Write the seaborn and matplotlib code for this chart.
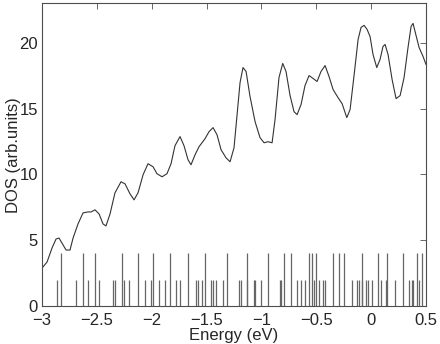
import numpy as np
import pandas as pd
import matplotlib
matplotlib.use("Agg")
import matplotlib.pyplot as plt
import seaborn as sns

# DOS curve (energy in eV, DOS in arb. units)
energy = [-3.000, -2.954, -2.909, -2.872, -2.845, -2.818, -2.781, -2.745, -2.717, -2.672,
          -2.626, -2.581, -2.553, -2.517, -2.480, -2.444, -2.417, -2.380, -2.335, -2.280,
          -2.243, -2.198, -2.161, -2.125, -2.079, -2.034, -1.988, -1.952, -1.906, -1.861,
          -1.824, -1.788, -1.742, -1.706, -1.669, -1.642, -1.605, -1.569, -1.514, -1.478,
          -1.441, -1.405, -1.368, -1.323, -1.286, -1.250, -1.222, -1.195, -1.168, -1.140,
          -1.104, -1.058, -1.013, -0.976, -0.940, -0.903, -0.876, -0.840, -0.806, -0.776,
          -0.739, -0.703, -0.675, -0.639, -0.603, -0.566, -0.529, -0.493, -0.457, -0.420,
          -0.384, -0.347, -0.302, -0.265, -0.222, -0.192, -0.156, -0.119, -0.092, -0.064,
          -0.037, -0.010, 0.017, 0.051, 0.081, 0.108, 0.127, 0.154, 0.191, 0.227,
          0.264, 0.300, 0.336, 0.364, 0.382, 0.409, 0.437, 0.473, 0.500]
dos = [2.89, 3.35, 4.41, 5.10, 5.17, 4.79, 4.26, 4.26, 5.17, 6.24,
       7.08, 7.15, 7.15, 7.31, 7.00, 6.24, 6.09, 7.00, 8.60, 9.44,
       9.28, 8.52, 8.07, 8.60, 9.97, 10.81, 10.58, 10.05, 9.82, 10.05,
       10.81, 12.18, 12.87, 12.18, 11.11, 10.73, 11.49, 12.10, 12.71, 13.24,
       13.55, 13.01, 11.87, 11.26, 10.96, 12.02, 14.54, 16.97, 18.11, 17.81,
       15.91, 14.00, 12.79, 12.40, 12.48, 12.40, 14.16, 17.35, 18.42, 17.81,
       15.98, 14.76, 14.54, 15.30, 16.74, 17.50, 17.28, 17.05, 17.81, 18.26,
       17.43, 16.44, 15.83, 15.37, 14.31, 14.92, 17.50, 20.24, 21.16, 21.31,
       21.00, 20.47, 19.10, 18.11, 18.72, 19.71, 19.86, 19.10, 17.20, 15.75,
       15.98, 17.35, 19.63, 21.23, 21.46, 20.55, 19.63, 18.95, 18.34]

# eigenvalue sticks: tall ones (height 4) and short ones (height 2)
levels_tall = [-2.824, -2.624, -2.514, -2.273, -2.122, -1.988, -1.836, -1.666, -1.514,
               -1.316, -1.134, -0.940, -0.794, -0.730, -0.569, -0.541, -0.502, -0.347,
               -0.290, -0.244, -0.083, 0.066, 0.145, 0.288, 0.416, 0.464]
levels_short = [-2.866, -2.687, -2.578, -2.478, -2.350, -2.332, -2.253, -2.204, -2.061,
                -2.006, -1.933, -1.882, -1.776, -1.739, -1.596, -1.578, -1.541, -1.462,
                -1.444, -1.411, -1.347, -1.207, -1.189, -1.134, -1.067, -1.055, -1.006,
                -0.833, -0.818, -0.675, -0.639, -0.605, -0.518, -0.478, -0.436, -0.420,
                -0.174, -0.128, -0.113, -0.083, -0.047, -0.028, 0.005, 0.087, 0.136,
                0.218, 0.346, 0.370, 0.379, 0.440]

df = pd.DataFrame({"Energy": energy, "DOS": dos})

sns.set_style("white")
plt.rcParams["font.family"] = ["Liberation Sans", "DejaVu Sans"]

fig = plt.figure(figsize=(4.4, 3.44), dpi=100)
ax = fig.add_axes([0.0955, 0.110, 0.8727, 0.881])

ax.vlines(levels_short, 0, 2, color="0.4", lw=0.9)
ax.vlines(levels_tall, 0, 4, color="0.4", lw=0.9)
sns.lineplot(data=df, x="Energy", y="DOS", sort=False, color="0.2", lw=0.8, ax=ax)

ax.set_xlim(-3, 0.5)
ax.set_ylim(0, 23)
ax.set_xticks([-3, -2.5, -2, -1.5, -1, -0.5, 0, 0.5])
ax.set_xticklabels(["\u22123", "\u22122.5", "\u22122", "\u22121.5", "\u22121", "\u22120.5", "0", "0.5"])
ax.set_yticks([0, 5, 10, 15, 20])
ax.tick_params(direction="in", length=4, width=0.6, color="0.3", labelsize=12,
               top=True, right=True)
ax.tick_params(axis="x", pad=5)
ax.tick_params(axis="y", pad=3)
for s in ax.spines.values():
    s.set_visible(True)
    s.set_color("0.3")
    s.set_linewidth(0.8)

ax.set_xlabel("Energy (eV)", fontsize=12, labelpad=0)
ax.set_ylabel("DOS (arb.units)", fontsize=12)
ax.yaxis.set_label_coords(-0.055, 0.5)

fig.savefig("out.png", dpi=100)
